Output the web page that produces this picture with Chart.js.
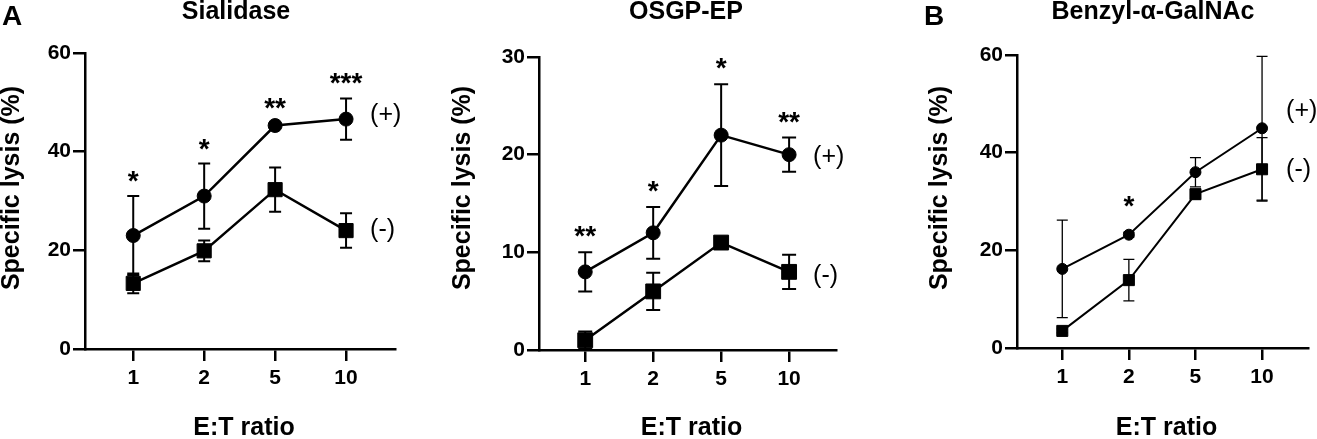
<!DOCTYPE html>
<html>
<head>
<meta charset="utf-8">
<script src="https://cdn.jsdelivr.net/npm/chart.js@4"></script>
<style>
  body { margin: 0; background: #fff; width: 1317px; height: 439px; overflow: hidden; position: relative; }
  canvas { position: absolute; top: 0; }
</style>
</head>
<body>
<canvas id="sialidaseChart" width="440" height="439" style="left:0px"></canvas>
<canvas id="osgpChart" width="440" height="439" style="left:440px"></canvas>
<canvas id="benzylChart" width="437" height="439" style="left:880px"></canvas>
<script>
// E:T ratios shared by all three panels
const etRatios = ['1', '2', '5', '10'];

// Sialidase
const sialidasePlus = [23, 31, 45.3, 46.6];
const sialidasePlusSd = [8, 6.6, 0.5, 4.2];
const sialidaseMinus = [13.3, 19.9, 32.3, 24];
const sialidaseMinusSd = [2, 2.1, 4.5, 3.5];
const sialidaseStars = ['*', '*', '**', '***'];

// OSGP-EP
const osgpPlus = [8, 12, 22, 20];
const osgpPlusSd = [2, 2.65, 5.2, 1.75];
const osgpMinus = [1, 6, 11, 8];
const osgpMinusSd = [0.9, 1.9, 0.3, 1.75];
const osgpStars = ['**', '*', '*', '**'];

// Benzyl-α-GalNAc
const benzylPlus = [16.2, 23.2, 36, 45];
const benzylPlusSd = [10, 0.5, 3, 14.7];
const benzylMinus = [3.5, 13.9, 31.5, 36.6];
const benzylMinusSd = [0.4, 4.25, 1, 6.5];
const benzylStars = ['', '*', '', ''];

const FONT = "'Liberation Sans', Arial, Helvetica, sans-serif";

// draw mean +/- SD whiskers behind the markers
const errorBarPlugin = {
    id: 'errorBars',
    beforeDatasetsDraw(chart, args, opts) {
        const ctx = chart.ctx;
        const xs = chart.scales.x, ys = chart.scales.y;
        ctx.save();
        ctx.strokeStyle = '#000';
        ctx.lineWidth = opts.width;
        chart.data.datasets.forEach(ds => {
            ds.data.forEach((pt, i) => {
                const sd = ds.sd[i];
                if (!sd) return;
                const px = xs.getPixelForValue(pt.x);
                const top = ys.getPixelForValue(pt.y + sd);
                const bot = ys.getPixelForValue(pt.y - sd);
                ctx.beginPath();
                ctx.moveTo(px, top); ctx.lineTo(px, bot);
                ctx.moveTo(px - opts.cap, top); ctx.lineTo(px + opts.cap, top);
                ctx.moveTo(px - opts.cap, bot); ctx.lineTo(px + opts.cap, bot);
                ctx.stroke();
            });
        });
        ctx.restore();
    }
};

// titles, axis titles, significance stars and (+)/(-) labels
const panelTextPlugin = {
    id: 'panelText',
    afterDraw(chart, args, opts) {
        const { ctx, chartArea } = chart;
        const xs = chart.scales.x, ys = chart.scales.y;
        const midX = (chartArea.left + chartArea.right) / 2;
        ctx.save();
        ctx.fillStyle = '#000';
        ctx.textBaseline = 'middle';

        ctx.textAlign = 'center';
        ctx.font = `bold 25px ${FONT}`;
        ctx.fillText(opts.title, opts.titleX, 12);

        if (opts.letter) {
            ctx.textAlign = 'left';
            ctx.font = `bold 28px ${FONT}`;
            ctx.fillText(opts.letter, opts.letterX, 17);
        }

        ctx.textAlign = 'center';
        ctx.font = `bold 25px ${FONT}`;
        ctx.fillText('E:T ratio', midX + 4, 428);

        ctx.save();
        ctx.translate(chartArea.left - opts.yTitleGap, 188);
        ctx.rotate(-Math.PI / 2);
        ctx.fillText('Specific lysis (%)', 0, 0);
        ctx.restore();

        // stars above the upper whisker of the (+) series
        const plus = chart.data.datasets[0];
        ctx.textBaseline = 'alphabetic';
        ctx.font = `bold 28px ${FONT}`;
        opts.stars.forEach((s, i) => {
            if (!s) return;
            const pt = plus.data[i];
            const px = xs.getPixelForValue(pt.x);
            const top = ys.getPixelForValue(pt.y + plus.sd[i]);
            ctx.fillText(s, px, top - opts.starGap + 16);
        });

        // series labels next to the last point
        ctx.textAlign = 'left';
        ctx.textBaseline = 'middle';
        ctx.font = `25px ${FONT}`;
        chart.data.datasets.forEach((ds, k) => {
            const last = ds.data[ds.data.length - 1];
            const px = xs.getPixelForValue(last.x);
            const py = ys.getPixelForValue(last.y);
            ctx.fillText(ds.label, px + 24, py + opts.labelShift[k]);
        });
        ctx.restore();
    }
};

function toPoints(values) {
    return values.map((v, i) => ({ x: i + 1, y: v }));
}

function makePanel(id, p) {
    const canvas = document.getElementById(id);
    const H = canvas.height;
    new Chart(canvas, {
        type: 'line',
        data: {
            datasets: [
                {
                    label: '(+)',
                    data: toPoints(p.plus),
                    sd: p.plusSd,
                    borderColor: '#000',
                    backgroundColor: '#000',
                    borderWidth: p.lineWidth,
                    pointStyle: 'circle',
                    pointRadius: p.radius,
                    pointBorderWidth: 1,
                    tension: 0
                },
                {
                    label: '(-)',
                    data: toPoints(p.minus),
                    sd: p.minusSd,
                    borderColor: '#000',
                    backgroundColor: '#000',
                    borderWidth: p.lineWidth,
                    pointStyle: 'rect',
                    pointRadius: p.sqRadius,
                    pointBorderWidth: 1,
                    tension: 0
                }
            ]
        },
        options: {
            responsive: false,
            animation: false,
            events: [],
            layout: { padding: { left: 0, right: canvas.width - p.right, top: p.top, bottom: 0 } },
            scales: {
                x: {
                    type: 'linear',
                    min: 0.32,
                    max: 4.69,
                    afterFit: s => { s.height = H - p.bottom; },
                    afterBuildTicks: s => { s.ticks = etRatios.map((_, i) => ({ value: i + 1 })); },
                    grid: { drawOnChartArea: false, drawTicks: true, tickLength: 12, color: '#000', lineWidth: 2.5 },
                    border: { display: true, color: '#000', width: 2.5 },
                    ticks: {
                        color: '#000',
                        padding: 5,
                        maxRotation: 0,
                        font: { family: FONT, size: 21, weight: 'bold' },
                        callback: (v, i) => etRatios[i]
                    }
                },
                y: {
                    min: 0,
                    max: p.yMax,
                    afterFit: s => { s.width = p.left; },
                    grid: { drawOnChartArea: false, drawTicks: true, tickLength: 12, color: '#000', lineWidth: 2.5 },
                    border: { display: true, color: '#000', width: 2.5 },
                    ticks: {
                        color: '#000',
                        padding: 2,
                        stepSize: p.yStep,
                        font: { family: FONT, size: 21, weight: 'bold' }
                    }
                }
            },
            plugins: {
                legend: { display: false },
                tooltip: { enabled: false },
                errorBars: { width: p.errWidth, cap: p.cap },
                panelText: {
                    title: p.title,
                    titleX: p.titleX,
                    letter: p.letter,
                    letterX: p.letterX,
                    yTitleGap: p.yTitleGap,
                    stars: p.stars,
                    starGap: p.starGap,
                    labelShift: p.labelShift
                }
            }
        },
        plugins: [errorBarPlugin, panelTextPlugin]
    });
}

makePanel('sialidaseChart', {
    title: 'Sialidase', titleX: 236, letter: 'A', letterX: 2,
    plus: sialidasePlus, plusSd: sialidasePlusSd,
    minus: sialidaseMinus, minusSd: sialidaseMinusSd,
    stars: sialidaseStars, yMax: 60, yStep: 20,
    left: 85, right: 395, top: 53, bottom: 349,
    lineWidth: 2.5, radius: 7, sqRadius: 10, errWidth: 2, cap: 6,
    yTitleGap: 73, starGap: 22, labelShift: [-4, 0]
});

makePanel('osgpChart', {
    title: 'OSGP-EP', titleX: 246, letter: '', letterX: 0,
    plus: osgpPlus, plusSd: osgpPlusSd,
    minus: osgpMinus, minusSd: osgpMinusSd,
    stars: osgpStars, yMax: 30, yStep: 10,
    left: 99, right: 396, top: 57, bottom: 350,
    lineWidth: 2.5, radius: 7, sqRadius: 10.5, errWidth: 2, cap: 7,
    yTitleGap: 76, starGap: 23, labelShift: [2, 4]
});

makePanel('benzylChart', {
    title: 'Benzyl-α-GalNAc', titleX: 273, letter: 'B', letterX: 44,
    plus: benzylPlus, plusSd: benzylPlusSd,
    minus: benzylMinus, minusSd: benzylMinusSd,
    stars: benzylStars, yMax: 60, yStep: 20,
    left: 137, right: 428, top: 55, bottom: 348,
    lineWidth: 2, radius: 5.5, sqRadius: 7.8, errWidth: 1.3, cap: 5.5,
    yTitleGap: 77, starGap: 33, labelShift: [-17, 1]
});
</script>
</body>
</html>
